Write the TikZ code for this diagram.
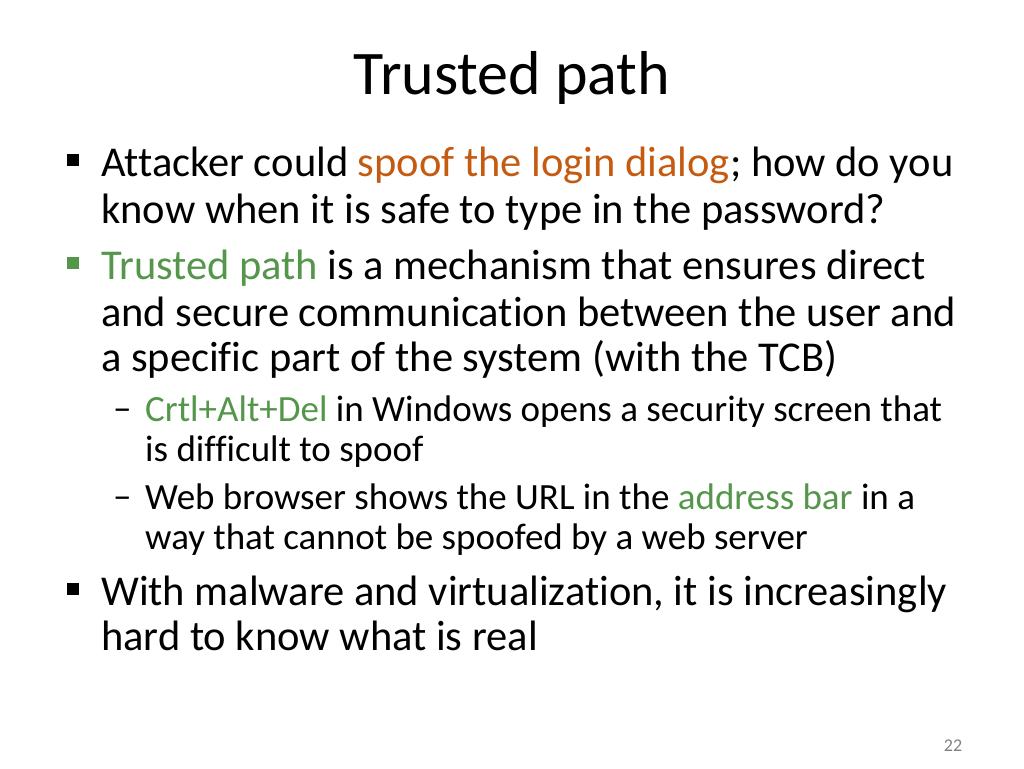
\documentclass[tikz,border=0pt]{standalone}
\usepackage{fontspec}
\setmainfont{Carlito}[Ligatures={NoCommon}]
\definecolor{spoof}{RGB}{197,90,17}
\definecolor{trust}{RGB}{84,150,74}
\begin{document}
\begin{tikzpicture}[x=1pt,y=-1pt]
    \tikzstyle{big}=[anchor=base west,inner sep=0pt,font=\fontsize{42.5}{50}\selectfont]
    \tikzstyle{small}=[anchor=base west,inner sep=0pt,font=\fontsize{37}{44}\selectfont]
    \tikzstyle{sq}=[fill=black,minimum size=12pt,inner sep=0pt]
    \newcommand{\spf}[1]{\textcolor{spoof}{#1}}
    \newcommand{\trs}[1]{\textcolor{trust}{#1}}
    \useasboundingbox (0,0) rectangle (1024,768);
    \node[font=\fontsize{62}{70}\selectfont] (title) at (512,78) {Trusted path};
    % bullets
    \node[sq] (b1) at (73,160) {};
    \node[sq,fill=trust] (b2) at (73,263) {};
    \node[sq] (b3) at (73,589) {};
    \node[small] (d1) at (113,420) {–};
    \node[small] (d2) at (113,508) {–};
    \node[big] (l1) at (101,176) {Attacker could \spf{spoof the login dialog}; how do you};
    \node[big] (l2) at (101,223) {know when it is safe to type in the password?};
    \node[big] (l3) at (101,279) {\trs{Trusted path} is a mechanism that ensures direct};
    \node[big] (l4) at (101,326) {and secure communication between the user and};
    \node[big] (l5) at (101,371) {a specific part of the system (with the TCB)};
    \node[small] (s1) at (145,421) {\trs{Crtl+Alt+Del} in Windows opens a security screen that};
    \node[small] (s2) at (145,461) {is difficult to spoof};
    \node[small] (s3) at (145,509) {Web browser shows the URL in the \trs{address bar} in a};
    \node[small] (s4) at (145,549) {way that cannot be spoofed by a web server};
    \node[big] (l6) at (101,605) {With malware and virtualization, it is increasingly};
    \node[big] (l7) at (101,650) {hard to know what is real};
    \node[font=\fontsize{18}{20}\selectfont,text=gray] (page) at (953,746) {22};
\end{tikzpicture}
\end{document}
